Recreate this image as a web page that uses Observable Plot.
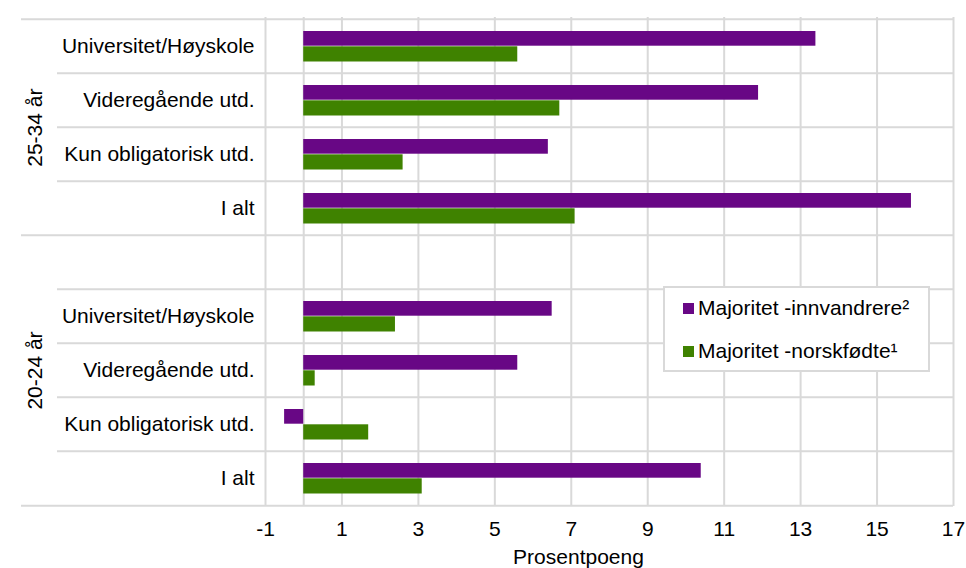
<!DOCTYPE html>
<html>
<head>
<meta charset="utf-8">
<script src="https://cdn.jsdelivr.net/npm/d3@7"></script>
<script src="https://cdn.jsdelivr.net/npm/@observablehq/plot@0.6"></script>
<style>
  html, body { margin: 0; padding: 0; background: #fff; }
  body { font-family: Arial, "Liberation Sans", sans-serif; }
  #wrap { position: relative; width: 966px; height: 568px; }
  .legend { position: absolute; left: 663px; top: 286px; width: 263px; height: 82px;
            border: 2px solid #d9d9d9; background: #fff; font-size: 21px; color: #000; }
  .legend .item { position: absolute; left: 18px; display: flex; align-items: center; white-space: nowrap; line-height: 24px; }
  .legend .sw { width: 11px; height: 11px; margin-right: 4px; }
</style>
</head>
<body>
<div id="wrap"></div>
<script>
// ---- data ----
const educationLevels = ["Universitet/Høyskole", "Videregående utd.", "Kun obligatorisk utd.", "I alt"];
const ageGroups = ["25-34 år", "20-24 år"];
const seriesNames = ["Majoritet -innvandrere²", "Majoritet -norskfødte¹"];
const seriesColors = ["#680785", "#3f8200"];
const innvandrere_25_34 = [13.4, 11.9, 6.4, 15.9];
const norskfodte_25_34 = [5.6, 6.7, 2.6, 7.1];
const innvandrere_20_24 = [6.5, 5.6, -0.5, 10.4];
const norskfodte_20_24 = [2.4, 0.3, 1.7, 3.1];
const xTicks = [-1, 1, 3, 5, 7, 9, 11, 13, 15, 17];
const axisLabel = "Prosentpoeng";

// ---- build table ----
const key = (age, edu) => age + "|" + edu;
const blankKey = "|";
const rowKeys = [
  ...educationLevels.map(e => key(ageGroups[0], e)),
  blankKey,
  ...educationLevels.map(e => key(ageGroups[1], e))
];
const table = [];
educationLevels.forEach((e, i) => {
  table.push({row: key(ageGroups[0], e), series: seriesNames[0], value: innvandrere_25_34[i]});
  table.push({row: key(ageGroups[0], e), series: seriesNames[1], value: norskfodte_25_34[i]});
  table.push({row: key(ageGroups[1], e), series: seriesNames[0], value: innvandrere_20_24[i]});
  table.push({row: key(ageGroups[1], e), series: seriesNames[1], value: norskfodte_20_24[i]});
});

const W = 966, H = 568, mT = 17, mB = 62, mL = 265, mR = 13;
const bw = (H - mT - mB) / rowKeys.length;
const grid = "#d9d9d9";
const FS = 21;

const shortTops = rowKeys.filter((k, i) => i !== 0 && i !== 4);
const longTops = [rowKeys[0], rowKeys[4]];
const lastRow = rowKeys[rowKeys.length - 1];

const chart = Plot.plot({
  width: W, height: H,
  marginTop: mT, marginBottom: mB, marginLeft: mL, marginRight: mR,
  style: {fontFamily: "Arial, 'Liberation Sans', sans-serif", fontSize: FS + "px", color: "#000", background: "#fff"},
  x: {domain: [-1, 17]},
  y: {domain: rowKeys, padding: 0},
  marks: [
    Plot.ruleX([0, ...xTicks], {stroke: grid, strokeWidth: 2}),
    Plot.ruleY(shortTops, {y: d => d, dy: -bw / 2, stroke: grid, strokeWidth: 2, insetLeft: -208}),
    Plot.ruleY(longTops, {y: d => d, dy: -bw / 2, stroke: grid, strokeWidth: 2, insetLeft: -244}),
    Plot.ruleY([lastRow], {y: d => d, dy: bw / 2, stroke: grid, strokeWidth: 2, insetLeft: -244}),
    Plot.barX(table.filter(d => d.series === seriesNames[0]), {
      y: "row", x1: 0, x2: "value", fill: seriesColors[0], insetTop: 12, insetBottom: 27.3
    }),
    Plot.barX(table.filter(d => d.series === seriesNames[1]), {
      y: "row", x1: 0, x2: "value", fill: seriesColors[1], insetTop: 27.3, insetBottom: 11.5
    }),
    Plot.axisY({tickSize: 0, tickPadding: 11, fontSize: FS, label: null,
      tickFormat: d => d.split("|")[1]}),
    Plot.axisX({ticks: xTicks, tickSize: 0, tickPadding: 15, fontSize: FS, label: null,
      tickFormat: d => String(d)}),
    Plot.text([ageGroups[0]], {y: () => key(ageGroups[0], educationLevels[1]), dy: bw / 2,
      frameAnchor: "left", dx: -(mL - 35), rotate: -90, textAnchor: "middle", lineAnchor: "middle",
      text: d => d, fontSize: FS, fill: "#000"}),
    Plot.text([ageGroups[1]], {y: () => key(ageGroups[1], educationLevels[1]),
      frameAnchor: "left", dx: -(mL - 35), rotate: -90, textAnchor: "middle", lineAnchor: "middle",
      text: d => d, fontSize: FS, fill: "#000"}),
    Plot.text([axisLabel], {frameAnchor: "bottom", dy: 51, dx: -31, lineAnchor: "middle",
      text: d => d, fontSize: FS, fill: "#000"})
  ]
});

const wrap = document.getElementById("wrap");
wrap.appendChild(chart);

// legend (inside plot area)
const legend = document.createElement("div");
legend.className = "legend";
const itemTops = [8, 51];
seriesNames.forEach((name, i) => {
  const it = document.createElement("div");
  it.className = "item";
  it.style.top = itemTops[i] + "px";
  const sw = document.createElement("span");
  sw.className = "sw";
  sw.style.background = seriesColors[i];
  const tx = document.createElement("span");
  tx.textContent = name;
  it.appendChild(sw);
  it.appendChild(tx);
  legend.appendChild(it);
});
wrap.appendChild(legend);
</script>
</body>
</html>
